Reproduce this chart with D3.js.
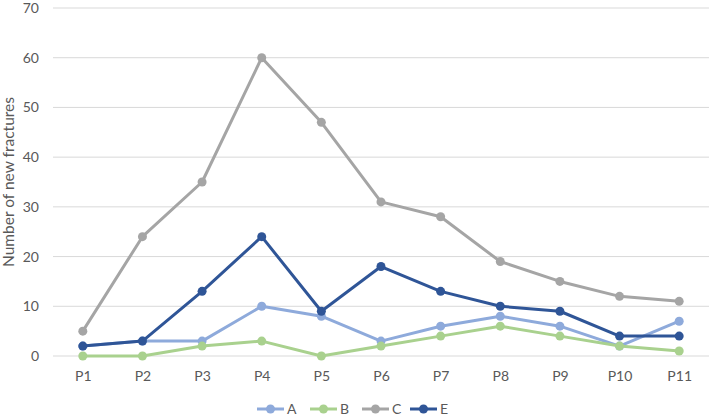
<!DOCTYPE html>
<html><head><meta charset="utf-8">
<script src="https://cdn.jsdelivr.net/npm/d3@7"></script>
<style>body{margin:0;background:#fff}svg{display:block;font-family:Lato,"Open Sans",sans-serif}</style>
</head><body><svg id="c" width="709" height="417"></svg>
<script>
const categories = ["P1","P2","P3","P4","P5","P6","P7","P8","P9","P10","P11"];
const seriesNames = ["A","B","C","E"];
const valuesA = [2,3,3,10,8,3,6,8,6,2,7];
const valuesB = [0,0,2,3,0,2,4,6,4,2,1];
const valuesC = [5,24,35,60,47,31,28,19,15,12,11];
const valuesE = [2,3,13,24,9,18,13,10,9,4,4];
const yTicks = [0,10,20,30,40,50,60,70];
const colors = {A:"#8eaadb", B:"#a9d18e", C:"#a5a5a5", E:"#2f5597"};
const series = [["A",valuesA],["B",valuesB],["C",valuesC],["E",valuesE]];

const svg = d3.select("#c");
const m = {l:53, r:0, t:8, b:61};
const W = 709, H = 417;
const x = d3.scalePoint().domain(categories).range([m.l, W-m.r]).padding(0.5);
const y = d3.scaleLinear().domain([0,70]).range([H-m.b, m.t]);

// gridlines
svg.append("g").selectAll("line").data(yTicks).join("line")
  .attr("x1", m.l).attr("x2", W-m.r)
  .attr("y1", d=>y(d)).attr("y2", d=>y(d))
  .attr("stroke","#d9d9d9").attr("stroke-width",1);

// y axis
const ya = svg.append("g").attr("transform",`translate(${m.l},0)`)
  .call(d3.axisLeft(y).tickValues(yTicks).tickSize(0).tickPadding(14));
ya.select(".domain").remove();
ya.selectAll("text").attr("font-size",14).attr("fill","#595959").attr("font-family","Lato, sans-serif");

// x axis
const xa = svg.append("g").attr("transform",`translate(0,${H-m.b})`)
  .call(d3.axisBottom(x).tickSize(0).tickPadding(15));
xa.select(".domain").remove();
xa.selectAll("text").attr("font-size",14).attr("fill","#595959").attr("font-family","Lato, sans-serif");

// axis title
svg.append("text").attr("transform",`translate(14,${(m.t + H-m.b)/2}) rotate(-90)`)
  .attr("text-anchor","middle").attr("font-size",15.5).attr("fill","#595959")
  .text("Number of new fractures");

const line = d3.line().x((d,i)=>x(categories[i])).y(d=>y(d));
series.forEach(([name, vals])=>{
  const g = svg.append("g");
  g.append("path").datum(vals).attr("d", line).attr("fill","none")
    .attr("stroke", colors[name]).attr("stroke-width",3).attr("stroke-linejoin","round");
  g.selectAll("circle").data(vals).join("circle")
    .attr("cx",(d,i)=>x(categories[i])).attr("cy",d=>y(d)).attr("r",4.5)
    .attr("fill", colors[name]);
});

// legend
const legX = [257, 310, 362, 410];
const lg = svg.append("g");
seriesNames.forEach((n,i)=>{
  const gx = legX[i], gy = 409;
  lg.append("line").attr("x1",gx).attr("x2",gx+27).attr("y1",gy).attr("y2",gy)
    .attr("stroke",colors[n]).attr("stroke-width",3);
  lg.append("circle").attr("cx",gx+13.5).attr("cy",gy).attr("r",4.5).attr("fill",colors[n]);
  lg.append("text").attr("x",gx+30).attr("y",gy+5).attr("font-size",14).attr("fill","#595959").text(n);
});
</script></body></html>
